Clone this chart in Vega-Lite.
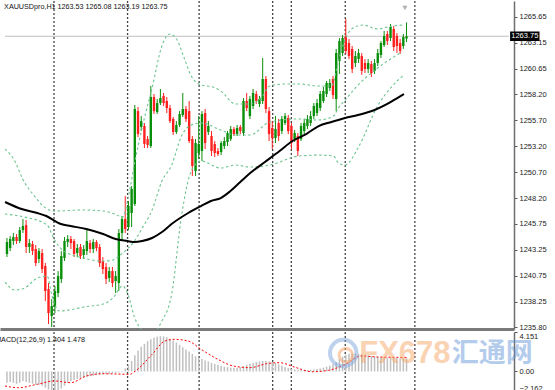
{
"$schema":"https://vega.github.io/schema/vega-lite/v6.json",
"padding":0,
"background":"white",
"bounds":"flush",
"spacing":3,
"config":{"view":{"stroke":null},"axis":{"grid":false,"labelFont":"Liberation Sans","labelFontSize":7.5,"labelColor":"#222","tickColor":"#555","tickSize":3,"tickWidth":1,"domainColor":"#6e6e6e","domainWidth":1.5,"labelPadding":2}},
"datasets":{
"seps":[{"t":14.72},{"t":37.73},{"t":60.12},{"t":83.13},{"t":88.96},{"t":105.83},{"t":127.61}],
"quote":[{"sym":"XAUUSDpro,H1","o":1263.53,"h":1265.08,"l":1263.19,"c":1263.75}],
"candles":[
{"t":0,"o":1242.82,"h":1244.36,"l":1242.53,"c":1243.97,"m":-1.2},
{"t":1,"o":1243.39,"h":1244.55,"l":1243.10,"c":1244.26,"m":-1.1},
{"t":2,"o":1244.07,"h":1244.84,"l":1243.68,"c":1244.45,"m":-1.2},
{"t":3,"o":1244.45,"h":1244.74,"l":1243.78,"c":1244.07,"m":-1.3},
{"t":4,"o":1244.07,"h":1245.41,"l":1243.87,"c":1245.12,"m":-1.2},
{"t":5,"o":1245.12,"h":1246.18,"l":1244.84,"c":1245.51,"m":-1.0},
{"t":6,"o":1245.60,"h":1246.09,"l":1242.91,"c":1243.49,"m":-1.1},
{"t":7,"o":1243.49,"h":1244.26,"l":1242.91,"c":1243.87,"m":-1.2},
{"t":8,"o":1243.78,"h":1244.07,"l":1242.72,"c":1243.10,"m":-1.3},
{"t":9,"o":1243.30,"h":1243.68,"l":1241.66,"c":1241.95,"m":-1.4},
{"t":10,"o":1242.34,"h":1243.39,"l":1241.95,"c":1243.10,"m":-1.4},
{"t":11,"o":1242.91,"h":1243.30,"l":1240.99,"c":1241.37,"m":-1.5},
{"t":12,"o":1241.66,"h":1241.95,"l":1238.30,"c":1239.26,"m":-1.7},
{"t":13,"o":1239.45,"h":1240.03,"l":1236.09,"c":1237.14,"m":-1.9},
{"t":14,"o":1236.86,"h":1238.49,"l":1235.80,"c":1237.82,"m":-2.1},
{"t":15,"o":1237.72,"h":1239.74,"l":1237.14,"c":1239.26,"m":-2.16},
{"t":16,"o":1239.07,"h":1241.18,"l":1238.68,"c":1240.70,"m":-2.0},
{"t":17,"o":1240.41,"h":1243.10,"l":1240.03,"c":1242.62,"m":-1.8},
{"t":18,"o":1242.43,"h":1244.45,"l":1242.14,"c":1244.07,"m":-1.5},
{"t":19,"o":1243.97,"h":1244.64,"l":1243.49,"c":1244.26,"m":-1.2},
{"t":20,"o":1244.26,"h":1244.55,"l":1243.30,"c":1243.87,"m":-1.0},
{"t":21,"o":1244.07,"h":1244.26,"l":1242.53,"c":1242.82,"m":-0.9},
{"t":22,"o":1242.91,"h":1243.78,"l":1242.53,"c":1243.39,"m":-0.8},
{"t":23,"o":1243.49,"h":1243.78,"l":1242.34,"c":1242.62,"m":-0.75},
{"t":24,"o":1242.72,"h":1243.68,"l":1242.34,"c":1243.30,"m":-0.65},
{"t":25,"o":1243.10,"h":1245.22,"l":1242.72,"c":1244.07,"m":-0.55},
{"t":26,"o":1243.87,"h":1244.16,"l":1242.91,"c":1243.30,"m":-0.5},
{"t":27,"o":1243.30,"h":1244.26,"l":1242.91,"c":1243.97,"m":-0.45},
{"t":28,"o":1243.97,"h":1244.16,"l":1243.10,"c":1243.39,"m":-0.4},
{"t":29,"o":1243.49,"h":1243.78,"l":1241.57,"c":1241.95,"m":-0.35},
{"t":30,"o":1242.14,"h":1242.53,"l":1240.89,"c":1241.37,"m":-0.3},
{"t":31,"o":1241.57,"h":1241.95,"l":1239.93,"c":1240.41,"m":-0.3},
{"t":32,"o":1240.51,"h":1241.57,"l":1240.12,"c":1241.18,"m":-0.25},
{"t":33,"o":1241.18,"h":1241.57,"l":1239.64,"c":1240.03,"m":-0.2},
{"t":34,"o":1240.22,"h":1241.18,"l":1239.07,"c":1240.70,"m":-0.15},
{"t":35,"o":1240.03,"h":1245.22,"l":1239.26,"c":1244.84,"m":-0.1},
{"t":36,"o":1244.84,"h":1246.47,"l":1244.07,"c":1246.18,"m":0.05},
{"t":37,"o":1246.18,"h":1248.39,"l":1244.84,"c":1245.22,"m":0.3},
{"t":38,"o":1245.41,"h":1247.91,"l":1245.12,"c":1247.43,"m":0.7},
{"t":39,"o":1246.76,"h":1249.35,"l":1245.41,"c":1249.07,"m":1.1},
{"t":40,"o":1247.62,"h":1257.14,"l":1247.43,"c":1256.76,"m":1.7},
{"t":41,"o":1256.56,"h":1256.95,"l":1254.06,"c":1254.35,"m":2.2},
{"t":42,"o":1255.03,"h":1256.08,"l":1254.64,"c":1255.60,"m":2.6},
{"t":43,"o":1255.12,"h":1255.41,"l":1253.01,"c":1253.39,"m":2.9},
{"t":44,"o":1253.87,"h":1254.16,"l":1253.01,"c":1253.30,"m":3.2},
{"t":45,"o":1253.20,"h":1258.97,"l":1253.01,"c":1257.91,"m":3.4},
{"t":46,"o":1257.91,"h":1258.20,"l":1256.28,"c":1256.56,"m":3.55},
{"t":47,"o":1256.47,"h":1257.72,"l":1256.28,"c":1257.33,"m":3.65},
{"t":48,"o":1257.33,"h":1258.68,"l":1257.14,"c":1257.81,"m":3.7},
{"t":49,"o":1258.01,"h":1258.30,"l":1257.05,"c":1257.33,"m":3.68},
{"t":50,"o":1257.53,"h":1257.91,"l":1256.37,"c":1256.85,"m":3.6},
{"t":51,"o":1256.85,"h":1257.14,"l":1255.41,"c":1255.60,"m":3.45},
{"t":52,"o":1255.80,"h":1255.99,"l":1254.26,"c":1254.55,"m":3.25},
{"t":53,"o":1254.55,"h":1255.60,"l":1254.35,"c":1255.22,"m":3.05},
{"t":54,"o":1255.22,"h":1256.56,"l":1255.03,"c":1256.28,"m":2.8},
{"t":55,"o":1256.18,"h":1258.30,"l":1255.99,"c":1256.76,"m":2.55},
{"t":56,"o":1256.76,"h":1257.05,"l":1255.51,"c":1255.80,"m":2.3},
{"t":57,"o":1256.56,"h":1257.53,"l":1253.49,"c":1253.68,"m":2.1},
{"t":58,"o":1253.87,"h":1254.16,"l":1250.32,"c":1251.28,"m":1.85},
{"t":59,"o":1250.80,"h":1253.87,"l":1250.32,"c":1253.49,"m":1.6},
{"t":60,"o":1252.53,"h":1256.08,"l":1251.95,"c":1253.39,"m":1.45},
{"t":61,"o":1252.72,"h":1256.56,"l":1251.76,"c":1256.28,"m":1.3},
{"t":62,"o":1256.37,"h":1256.76,"l":1252.91,"c":1253.49,"m":1.15},
{"t":63,"o":1254.55,"h":1255.60,"l":1254.26,"c":1255.12,"m":1.05},
{"t":64,"o":1254.16,"h":1254.64,"l":1252.24,"c":1252.72,"m":0.9},
{"t":65,"o":1253.39,"h":1253.68,"l":1252.14,"c":1252.53,"m":0.8},
{"t":66,"o":1252.72,"h":1253.01,"l":1252.24,"c":1252.43,"m":0.7},
{"t":67,"o":1252.62,"h":1253.68,"l":1252.33,"c":1253.49,"m":0.6},
{"t":68,"o":1253.20,"h":1254.06,"l":1252.91,"c":1253.68,"m":0.5},
{"t":69,"o":1253.58,"h":1254.64,"l":1253.20,"c":1254.45,"m":0.45},
{"t":70,"o":1253.87,"h":1255.12,"l":1253.68,"c":1254.83,"m":0.4},
{"t":71,"o":1254.83,"h":1255.03,"l":1254.16,"c":1254.35,"m":0.4},
{"t":72,"o":1254.35,"h":1255.22,"l":1254.16,"c":1254.93,"m":0.4},
{"t":73,"o":1255.03,"h":1255.22,"l":1254.35,"c":1254.64,"m":0.45},
{"t":74,"o":1254.45,"h":1257.81,"l":1254.16,"c":1257.53,"m":0.55},
{"t":75,"o":1257.53,"h":1258.30,"l":1256.56,"c":1256.85,"m":0.7},
{"t":76,"o":1256.08,"h":1258.01,"l":1255.80,"c":1257.72,"m":0.8},
{"t":77,"o":1257.05,"h":1258.68,"l":1256.76,"c":1258.30,"m":0.9},
{"t":78,"o":1258.20,"h":1258.49,"l":1257.24,"c":1257.53,"m":1.0},
{"t":79,"o":1257.24,"h":1258.01,"l":1256.95,"c":1257.72,"m":1.05},
{"t":80,"o":1257.53,"h":1261.66,"l":1257.24,"c":1259.64,"m":1.1},
{"t":81,"o":1259.64,"h":1259.93,"l":1256.37,"c":1256.76,"m":1.1},
{"t":82,"o":1256.56,"h":1256.95,"l":1253.68,"c":1254.35,"m":1.05},
{"t":83,"o":1254.93,"h":1255.60,"l":1252.91,"c":1253.97,"m":1.0},
{"t":84,"o":1253.97,"h":1256.08,"l":1253.49,"c":1254.83,"m":0.9},
{"t":85,"o":1255.41,"h":1255.80,"l":1253.68,"c":1254.16,"m":0.75},
{"t":86,"o":1254.64,"h":1256.08,"l":1254.35,"c":1255.80,"m":0.6},
{"t":87,"o":1255.41,"h":1256.37,"l":1255.22,"c":1256.08,"m":0.45},
{"t":88,"o":1255.89,"h":1256.18,"l":1254.35,"c":1254.64,"m":0.35},
{"t":89,"o":1255.12,"h":1255.41,"l":1252.91,"c":1253.49,"m":0.28},
{"t":90,"o":1253.87,"h":1254.74,"l":1253.58,"c":1254.45,"m":0.22},
{"t":91,"o":1254.16,"h":1254.45,"l":1252.24,"c":1252.72,"m":0.18},
{"t":92,"o":1253.87,"h":1255.41,"l":1253.68,"c":1255.12,"m":0.15},
{"t":93,"o":1254.64,"h":1255.80,"l":1254.35,"c":1255.41,"m":0.15},
{"t":94,"o":1255.12,"h":1256.18,"l":1254.83,"c":1255.80,"m":0.15},
{"t":95,"o":1255.41,"h":1256.56,"l":1255.12,"c":1256.08,"m":0.18},
{"t":96,"o":1256.08,"h":1257.33,"l":1255.80,"c":1257.05,"m":0.2},
{"t":97,"o":1256.37,"h":1257.72,"l":1256.08,"c":1257.33,"m":0.25},
{"t":98,"o":1256.85,"h":1258.49,"l":1256.56,"c":1258.20,"m":0.3},
{"t":99,"o":1257.53,"h":1258.87,"l":1257.33,"c":1258.49,"m":0.4},
{"t":100,"o":1258.20,"h":1259.45,"l":1257.91,"c":1259.26,"m":0.5},
{"t":101,"o":1258.78,"h":1259.64,"l":1258.49,"c":1259.26,"m":0.6},
{"t":102,"o":1259.64,"h":1259.93,"l":1257.72,"c":1258.10,"m":0.75},
{"t":103,"o":1257.72,"h":1262.53,"l":1256.56,"c":1262.14,"m":1.0},
{"t":104,"o":1261.37,"h":1263.58,"l":1260.12,"c":1263.29,"m":1.3},
{"t":105,"o":1262.14,"h":1263.87,"l":1261.85,"c":1263.58,"m":1.55},
{"t":106,"o":1263.78,"h":1265.41,"l":1262.04,"c":1262.33,"m":1.75},
{"t":107,"o":1263.10,"h":1263.49,"l":1261.56,"c":1261.85,"m":1.85},
{"t":108,"o":1262.53,"h":1262.81,"l":1260.22,"c":1260.60,"m":1.9},
{"t":109,"o":1261.18,"h":1262.33,"l":1260.79,"c":1261.85,"m":1.9},
{"t":110,"o":1261.56,"h":1262.53,"l":1261.18,"c":1262.14,"m":1.85},
{"t":111,"o":1261.85,"h":1262.14,"l":1260.03,"c":1260.41,"m":1.8},
{"t":112,"o":1261.18,"h":1261.56,"l":1260.22,"c":1260.60,"m":1.75},
{"t":113,"o":1260.60,"h":1261.56,"l":1260.22,"c":1261.18,"m":1.7},
{"t":114,"o":1261.08,"h":1261.37,"l":1259.83,"c":1260.22,"m":1.65},
{"t":115,"o":1260.41,"h":1261.56,"l":1260.12,"c":1261.18,"m":1.6},
{"t":116,"o":1261.18,"h":1262.53,"l":1260.89,"c":1262.14,"m":1.55},
{"t":117,"o":1261.95,"h":1263.29,"l":1261.66,"c":1263.10,"m":1.5},
{"t":118,"o":1262.91,"h":1264.26,"l":1262.72,"c":1263.78,"m":1.5},
{"t":119,"o":1263.97,"h":1264.26,"l":1262.91,"c":1263.29,"m":1.45},
{"t":120,"o":1263.58,"h":1264.93,"l":1263.29,"c":1264.64,"m":1.45},
{"t":121,"o":1264.45,"h":1264.74,"l":1262.33,"c":1262.72,"m":1.42},
{"t":122,"o":1263.78,"h":1264.06,"l":1262.14,"c":1262.81,"m":1.42},
{"t":123,"o":1263.10,"h":1263.49,"l":1262.04,"c":1262.33,"m":1.4},
{"t":124,"o":1262.81,"h":1263.97,"l":1262.53,"c":1263.68,"m":1.4},
{"t":125,"o":1263.53,"h":1265.08,"l":1263.19,"c":1263.75,"m":1.404}
],
"ma":[{"t":-0.61,"p":1247.82},{"t":4.6,"p":1247.14},{"t":9.5,"p":1246.76},{"t":12.3,"p":1246.47},{"t":16.9,"p":1245.70},{"t":19.9,"p":1245.51},{"t":24.8,"p":1245.22},{"t":30.1,"p":1244.74},{"t":34.0,"p":1244.26},{"t":37.7,"p":1244.07},{"t":39.9,"p":1243.97},{"t":42.3,"p":1244.07},{"t":45.4,"p":1244.36},{"t":48.5,"p":1244.93},{"t":51.5,"p":1245.70},{"t":56.7,"p":1246.76},{"t":60.7,"p":1247.43},{"t":63.8,"p":1247.91},{"t":66.9,"p":1248.20},{"t":69.9,"p":1248.87},{"t":73.0,"p":1249.74},{"t":76.1,"p":1250.60},{"t":80.7,"p":1251.66},{"t":85.3,"p":1252.72},{"t":89.3,"p":1253.68},{"t":93.6,"p":1254.35},{"t":97.5,"p":1255.12},{"t":101.5,"p":1255.51},{"t":105.8,"p":1255.89},{"t":109.8,"p":1256.18},{"t":115.0,"p":1256.66},{"t":119.0,"p":1257.24},{"t":122.1,"p":1257.81},{"t":124.2,"p":1258.20}],
"bands":[
{"b":"u","t":-0.61,"p":1252.91},{"b":"u","t":2.45,"p":1251.76},{"b":"u","t":4.91,"p":1250.03},{"b":"u","t":8.59,"p":1248.39},{"b":"u","t":12.58,"p":1247.14},{"b":"u","t":14.72,"p":1246.95},{"b":"u","t":23.93,"p":1247.05},{"b":"u","t":30.06,"p":1246.95},{"b":"u","t":33.74,"p":1246.66},{"b":"u","t":36.2,"p":1246.37},{"b":"u","t":38.04,"p":1248.39},{"b":"u","t":39.88,"p":1251.47},{"b":"u","t":42.33,"p":1255.03},{"b":"u","t":45.4,"p":1258.78},{"b":"u","t":48.47,"p":1262.81},{"b":"u","t":50.92,"p":1263.97},{"b":"u","t":53.07,"p":1263.49},{"b":"u","t":55.21,"p":1261.85},{"b":"u","t":57.67,"p":1259.93},{"b":"u","t":60.74,"p":1259.06},{"b":"u","t":64.42,"p":1258.87},{"b":"u","t":66.87,"p":1258.49},{"b":"u","t":71.47,"p":1257.24},{"b":"u","t":76.07,"p":1257.24},{"b":"u","t":79.75,"p":1257.91},{"b":"u","t":82.21,"p":1258.97},{"b":"u","t":86.81,"p":1259.16},{"b":"u","t":91.41,"p":1259.16},{"b":"u","t":97.55,"p":1258.97},{"b":"u","t":101.53,"p":1258.97},{"b":"u","t":103.68,"p":1261.37},{"b":"u","t":105.83,"p":1263.49},{"b":"u","t":108.28,"p":1264.54},{"b":"u","t":111.35,"p":1264.83},{"b":"u","t":115.95,"p":1264.45},{"b":"u","t":120.55,"p":1264.74},{"b":"u","t":124.23,"p":1264.83},
{"b":"m","t":-0.61,"p":1246.66},{"b":"m","t":5.52,"p":1246.37},{"b":"m","t":12.58,"p":1245.60},{"b":"m","t":14.72,"p":1244.26},{"b":"m","t":17.79,"p":1243.10},{"b":"m","t":23.93,"p":1242.43},{"b":"m","t":30.06,"p":1242.14},{"b":"m","t":33.13,"p":1242.24},{"b":"m","t":36.2,"p":1242.91},{"b":"m","t":39.88,"p":1244.07},{"b":"m","t":42.33,"p":1245.32},{"b":"m","t":45.4,"p":1247.05},{"b":"m","t":48.47,"p":1249.83},{"b":"m","t":51.53,"p":1251.37},{"b":"m","t":54.6,"p":1254.16},{"b":"m","t":57.67,"p":1255.22},{"b":"m","t":60.74,"p":1255.41},{"b":"m","t":66.87,"p":1254.74},{"b":"m","t":71.47,"p":1254.26},{"b":"m","t":76.07,"p":1254.26},{"b":"m","t":82.21,"p":1255.51},{"b":"m","t":91.41,"p":1255.80},{"b":"m","t":97.55,"p":1255.70},{"b":"m","t":102.15,"p":1256.08},{"b":"m","t":103.68,"p":1256.85},{"b":"m","t":105.83,"p":1257.62},{"b":"m","t":109.82,"p":1259.06},{"b":"m","t":115.95,"p":1260.70},{"b":"m","t":123.62,"p":1262.24},
{"b":"l","t":-0.61,"p":1240.12},{"b":"l","t":2.45,"p":1239.36},{"b":"l","t":5.52,"p":1239.55},{"b":"l","t":9.51,"p":1240.51},{"b":"l","t":12.58,"p":1240.70},{"b":"l","t":14.11,"p":1238.78},{"b":"l","t":16.26,"p":1237.34},{"b":"l","t":19.33,"p":1237.43},{"b":"l","t":23.93,"p":1237.72},{"b":"l","t":30.06,"p":1238.01},{"b":"l","t":33.13,"p":1238.59},{"b":"l","t":36.2,"p":1239.74},{"b":"l","t":38.04,"p":1238.78},{"b":"l","t":39.88,"p":1236.76},{"b":"l","t":42.33,"p":1235.51},{"b":"l","t":45.4,"p":1235.13},{"b":"l","t":48.47,"p":1236.38},{"b":"l","t":51.53,"p":1238.97},{"b":"l","t":54.6,"p":1246.47},{"b":"l","t":57.67,"p":1250.80},{"b":"l","t":60.74,"p":1251.76},{"b":"l","t":66.87,"p":1251.08},{"b":"l","t":71.47,"p":1251.37},{"b":"l","t":76.07,"p":1251.18},{"b":"l","t":82.21,"p":1251.37},{"b":"l","t":91.41,"p":1252.24},{"b":"l","t":97.55,"p":1252.33},{"b":"l","t":102.15,"p":1252.24},{"b":"l","t":103.68,"p":1251.57},{"b":"l","t":105.83,"p":1251.37},{"b":"l","t":109.82,"p":1253.01},{"b":"l","t":115.95,"p":1257.05},{"b":"l","t":120.55,"p":1258.97},{"b":"l","t":124.23,"p":1260.03}
],
"sig":[{"t":-0.61,"s":-1.53},{"t":3.37,"s":-1.71},{"t":9.51,"s":-1.35},{"t":14.72,"s":-1.0},{"t":19.94,"s":-1.18},{"t":24.85,"s":-0.48},{"t":30.06,"s":-0.24},{"t":38.34,"s":-0.3},{"t":40.18,"s":0.05},{"t":45.4,"s":1.8},{"t":49.39,"s":3.2},{"t":52.45,"s":3.38},{"t":56.75,"s":3.2},{"t":60.74,"s":2.33},{"t":65.95,"s":1.28},{"t":70.86,"s":0.57},{"t":76.07,"s":0.4},{"t":81.29,"s":0.82},{"t":85.28,"s":0.92},{"t":90.49,"s":0.4},{"t":95.4,"s":-0.03},{"t":100.61,"s":0.12},{"t":105.83,"s":0.75},{"t":110.74,"s":1.63},{"t":115.95,"s":1.52},{"t":125,"s":1.478}]
},
"vconcat":[
{
"width":514,"height":328,
"resolve":{"axis":{"x":"independent","y":"independent"}},
"layer":[
{"data":{"name":"seps"},"mark":{"type":"rule","color":"#444","strokeDash":[2,2],"strokeWidth":1.3},"encoding":{"x":{"field":"t","type":"quantitative","scale":{"domain":[-0.613,157.06],"nice":false,"zero":false},"axis":{"orient":"bottom","labels":false,"ticks":false,"title":null,"domainWidth":3,"domainColor":"#7a7a7a"}}}},
{"data":{"name":"quote"},"mark":{"type":"rule","color":"#c0c0c0","strokeWidth":1},"encoding":{"x":{"datum":-0.613,"type":"quantitative","scale":{"domain":[-0.613,157.06],"nice":false,"zero":false},"axis":null},"x2":{"datum":157.06},"y":{"field":"c","type":"quantitative","scale":{"domain":[1235.61,1267.14],"nice":false,"zero":false},"axis":{"orient":"right","values":[1235.80,1238.25,1240.75,1243.25,1245.75,1248.20,1250.70,1253.20,1255.70,1258.20,1260.65,1263.15,1265.65],"format":".2f","title":null}}}},
{"data":{"name":"candles"},"mark":{"type":"rule","strokeWidth":1,"clip":true},"encoding":{"x":{"field":"t","type":"quantitative","scale":{"domain":[-0.613,157.06],"nice":false,"zero":false},"axis":null},"y":{"field":"l","type":"quantitative","scale":{"domain":[1235.61,1267.14],"nice":false,"zero":false},"axis":null},"y2":{"field":"h"},"color":{"condition":{"test":"datum.c >= datum.o","value":"#0a8f0a"},"value":"#ff2020"}}},
{"data":{"name":"candles"},"mark":{"type":"bar","size":2.4,"clip":true},"encoding":{"x":{"field":"t","type":"quantitative","scale":{"domain":[-0.613,157.06],"nice":false,"zero":false},"axis":null},"y":{"field":"o","type":"quantitative","scale":{"domain":[1235.61,1267.14],"nice":false,"zero":false},"axis":null},"y2":{"field":"c"},"color":{"condition":{"test":"datum.c >= datum.o","value":"#0a8f0a"},"value":"#ff2020"}}},
{"data":{"name":"bands"},"mark":{"type":"line","color":"#6cc48e","strokeDash":[2.5,2.5],"strokeWidth":1.1,"interpolate":"monotone","clip":true},"encoding":{"x":{"field":"t","type":"quantitative","scale":{"domain":[-0.613,157.06],"nice":false,"zero":false},"axis":null},"y":{"field":"p","type":"quantitative","scale":{"domain":[1235.61,1267.14],"nice":false,"zero":false},"axis":null},"detail":{"field":"b"}}},
{"data":{"name":"ma"},"mark":{"type":"line","color":"#000","strokeWidth":2,"interpolate":"monotone","clip":true},"encoding":{"x":{"field":"t","type":"quantitative","scale":{"domain":[-0.613,157.06],"nice":false,"zero":false},"axis":null},"y":{"field":"p","type":"quantitative","scale":{"domain":[1235.61,1267.14],"nice":false,"zero":false},"axis":null}}},
{"data":{"name":"quote"},"mark":{"type":"text","text":"XAUUSDpro,H1 1263.53 1265.08 1263.19 1263.75","align":"left","baseline":"alphabetic","font":"Liberation Sans","fontSize":7.2,"color":"#111","clip":true},"encoding":{"x":{"datum":-0.9,"type":"quantitative","scale":{"domain":[-0.613,157.06],"nice":false,"zero":false},"axis":null},"y":{"datum":1266.37,"type":"quantitative","scale":{"domain":[1235.61,1267.14],"nice":false,"zero":false},"axis":null}}},
{"data":{"name":"quote"},"mark":{"type":"point","shape":"triangle-down","filled":true,"color":"#b0b0b0","size":25,"opacity":1},"encoding":{"x":{"datum":124.5,"type":"quantitative","scale":{"domain":[-0.613,157.06],"nice":false,"zero":false},"axis":null},"y":{"datum":1266.47,"type":"quantitative","scale":{"domain":[1235.61,1267.14],"nice":false,"zero":false},"axis":null}}},
{"data":{"name":"quote"},"mark":{"type":"rect","color":"#000"},"encoding":{"x":{"datum":157.4,"type":"quantitative","scale":{"domain":[-0.613,157.06],"nice":false,"zero":false},"axis":null},"x2":{"datum":166.6},"y":{"datum":1264.2,"type":"quantitative","scale":{"domain":[1235.61,1267.14],"nice":false,"zero":false},"axis":null},"y2":{"datum":1263.3}}},
{"data":{"name":"quote"},"mark":{"type":"text","align":"center","baseline":"middle","font":"Liberation Sans","fontSize":7.5,"color":"#fff"},"encoding":{"x":{"datum":162.0,"type":"quantitative","scale":{"domain":[-0.613,157.06],"nice":false,"zero":false},"axis":null},"y":{"field":"c","type":"quantitative","scale":{"domain":[1235.61,1267.14],"nice":false,"zero":false},"axis":null},"text":{"field":"c","type":"quantitative","format":".2f"}}}
]
},
{
"width":514,"height":60,
"resolve":{"axis":{"x":"independent","y":"independent"}},
"layer":[
{"data":{"name":"seps"},"mark":{"type":"rule","color":"#444","strokeDash":[2,2],"strokeWidth":1.3},"encoding":{"x":{"field":"t","type":"quantitative","scale":{"domain":[-0.613,157.06],"nice":false,"zero":false},"axis":null}}},
{"data":{"name":"candles"},"mark":{"type":"bar","size":1.5,"color":"#c0c0c0"},"encoding":{"x":{"field":"t","type":"quantitative","scale":{"domain":[-0.613,157.06],"nice":false,"zero":false},"axis":null},"y":{"field":"m","type":"quantitative","scale":{"domain":[-2.162,4.151],"nice":false,"zero":false},"axis":{"orient":"right","values":[4.151,0,-2.162],"labelExpr":"datum.value == 0 ? '0.00' : format(datum.value, '.3f')","title":null,"labelBaseline":{"condition":[{"test":"datum.value > 4","value":"top"},{"test":"datum.value < -2","value":"bottom"}],"value":"middle"}}},"y2":{"datum":0}}},
{"data":{"name":"sig"},"mark":{"type":"line","color":"#ff0000","strokeDash":[2,2],"strokeWidth":1,"interpolate":"monotone","clip":true},"encoding":{"x":{"field":"t","type":"quantitative","scale":{"domain":[-0.613,157.06],"nice":false,"zero":false},"axis":null},"y":{"field":"s","type":"quantitative","scale":{"domain":[-2.162,4.151],"nice":false,"zero":false},"axis":null}}},
{"data":{"name":"quote"},"mark":{"type":"text","text":"MACD(12,26,9) 1.404 1.478","align":"left","baseline":"alphabetic","font":"Liberation Sans","fontSize":7.2,"color":"#111","clip":true},"encoding":{"x":{"datum":-3.7,"type":"quantitative","scale":{"domain":[-0.613,157.06],"nice":false,"zero":false},"axis":null},"y":{"datum":3.1,"type":"quantitative","scale":{"domain":[-2.162,4.151],"nice":false,"zero":false},"axis":null}}},
{"data":{"name":"quote"},"mark":{"type":"point","shape":"circle","filled":false,"stroke":"#7fa7dc","strokeWidth":4,"size":700,"opacity":0.5},"encoding":{"x":{"datum":105.2,"type":"quantitative","scale":{"domain":[-0.613,157.06],"nice":false,"zero":false},"axis":null},"y":{"datum":1.94,"type":"quantitative","scale":{"domain":[-2.162,4.151],"nice":false,"zero":false},"axis":null}}},
{"data":{"name":"quote"},"mark":{"type":"point","shape":"circle","filled":false,"stroke":"#f5a66b","strokeWidth":3,"size":180,"opacity":0.55},"encoding":{"x":{"datum":106.0,"type":"quantitative","scale":{"domain":[-0.613,157.06],"nice":false,"zero":false},"axis":null},"y":{"datum":1.7,"type":"quantitative","scale":{"domain":[-2.162,4.151],"nice":false,"zero":false},"axis":null}}},
{"data":{"name":"quote"},"mark":{"type":"text","text":"FX678","align":"center","baseline":"middle","font":"Liberation Sans","fontWeight":"bold","fontSize":31,"color":"#f6a86a","opacity":0.5},"encoding":{"x":{"datum":124.5,"type":"quantitative","scale":{"domain":[-0.613,157.06],"nice":false,"zero":false},"axis":null},"y":{"datum":1.84,"type":"quantitative","scale":{"domain":[-2.162,4.151],"nice":false,"zero":false},"axis":null}}},
{"data":{"name":"quote"},"mark":{"type":"text","text":"汇通网","align":"center","baseline":"middle","font":"Noto Sans CJK SC","fontWeight":"bold","fontSize":27,"color":"#5b8fd6","opacity":0.45},"encoding":{"x":{"datum":151.8,"type":"quantitative","scale":{"domain":[-0.613,157.06],"nice":false,"zero":false},"axis":null},"y":{"datum":1.84,"type":"quantitative","scale":{"domain":[-2.162,4.151],"nice":false,"zero":false},"axis":null}}}
]
}
]
}
